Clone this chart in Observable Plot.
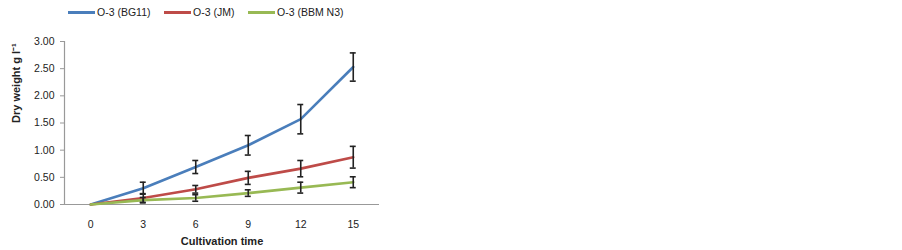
<!DOCTYPE html>
<html>
<head>
<meta charset="utf-8">
<script src="https://cdn.jsdelivr.net/npm/d3@7"></script>
<script src="https://cdn.jsdelivr.net/npm/@observablehq/plot@0.6"></script>
<style>
  body { margin: 0; background: #fff; font-family: "Liberation Sans", Arial, sans-serif; }
  #legend { position: relative; height: 26px; width: 902px; font-size: 10.5px; color: #222; }
  .item { position: absolute; top: 6px; display: flex; align-items: center; white-space: nowrap; }
  .sw { display: inline-block; width: 27px; height: 3px; margin-right: 2px; }
</style>
</head>
<body>
<div id="legend"></div>
<div id="chart"></div>
<script>
const days = [0, 3, 6, 9, 12, 15];
const seriesNames = ["O-3 (BG11)", "O-3 (JM)", "O-3 (BBM N3)"];
const seriesColors = ["#4A7EBB", "#BE4B48", "#98B954"];
const bg11 = [0, 0.30, 0.69, 1.09, 1.57, 2.53];
const bg11Err = [0, 0.11, 0.12, 0.18, 0.27, 0.26];
const jm = [0, 0.12, 0.28, 0.49, 0.66, 0.87];
const jmErr = [0, 0.08, 0.07, 0.12, 0.15, 0.20];
const bbm = [0, 0.08, 0.12, 0.21, 0.31, 0.41];
const bbmErr = [0, 0.05, 0.06, 0.06, 0.10, 0.10];
const yTicks = [0, 0.5, 1, 1.5, 2, 2.5, 3];
const xLabel = "Cultivation time";
const yLabel = "Dry weight g l⁻¹";

const allValues = [bg11, jm, bbm];
const allErr = [bg11Err, jmErr, bbmErr];
const data = [];
seriesNames.forEach((s, i) => days.forEach((t, j) => data.push({series: s, t, v: allValues[i][j], e: allErr[i][j]})));
const errData = data.filter(d => d.e > 0);
const capHalf = 0.17;

// legend
const legendX = [68, 164, 248];
const leg = document.getElementById("legend");
seriesNames.forEach((s, i) => {
  const it = document.createElement("div");
  it.className = "item";
  it.style.left = legendX[i] + "px";
  it.innerHTML = `<span class="sw" style="background:${seriesColors[i]}"></span><span>${s}</span>`;
  leg.appendChild(it);
});

const chart = Plot.plot({
  width: 902,
  height: 224,
  marginLeft: 64,
  marginRight: 523,
  marginTop: 15,
  marginBottom: 46,
  style: {fontFamily: "Liberation Sans, Arial, sans-serif", fontSize: "10.5px", color: "#222", background: "#fff"},
  x: {domain: [-1.5, 16.5]},
  y: {domain: [0, 3]},
  color: {domain: seriesNames, range: seriesColors},
  marks: [
    Plot.ruleX([-1.5], {stroke: "#999", strokeWidth: 1.2}),
    Plot.ruleY([0], {stroke: "#999", strokeWidth: 1.2}),
    Plot.axisX({ticks: days, tickSize: 0, tickPadding: 16, label: null}),
    Plot.axisY({ticks: yTicks, tickSize: 4, tickPadding: 6, tickFormat: d3.format(".2f"), label: null, stroke: "#999"}),
    Plot.line(data, {x: "t", y: "v", z: "series", stroke: "series", strokeWidth: 2.6}),
    Plot.ruleX(errData, {x: "t", y1: d => d.v - d.e, y2: d => d.v + d.e, stroke: "#222", strokeWidth: 1.6}),
    Plot.ruleY(errData, {y: d => d.v + d.e, x1: d => d.t - capHalf, x2: d => d.t + capHalf, stroke: "#222", strokeWidth: 1.6}),
    Plot.ruleY(errData, {y: d => d.v - d.e, x1: d => d.t - capHalf, x2: d => d.t + capHalf, stroke: "#222", strokeWidth: 1.6}),
    Plot.text([xLabel], {frameAnchor: "bottom", dy: 40, fontWeight: "bold", fontSize: 11}),
    Plot.text([yLabel], {frameAnchor: "left", dx: -48, rotate: -90, fontWeight: "bold", fontSize: 11})
  ]
});
document.getElementById("chart").appendChild(chart);
</script>
</body>
</html>
